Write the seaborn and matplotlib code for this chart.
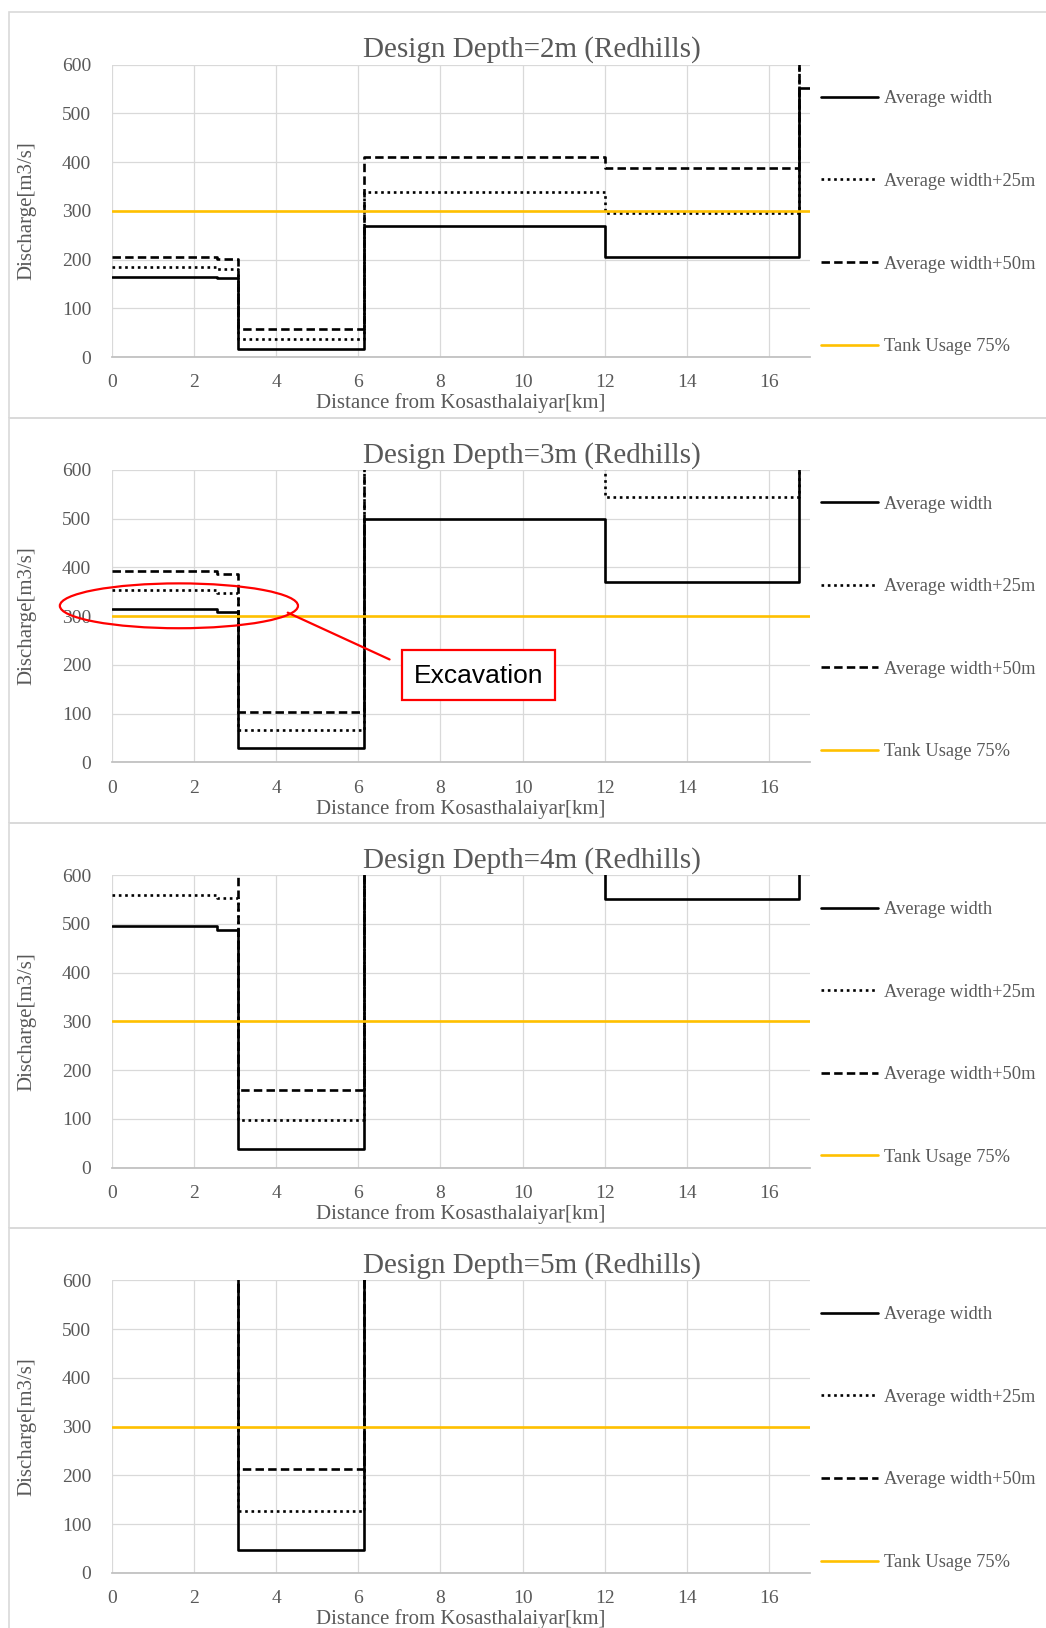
import numpy as np
import pandas as pd
import matplotlib
matplotlib.use("Agg")
import matplotlib.pyplot as plt
from matplotlib.patches import Rectangle, Ellipse
import seaborn as sns

# step edges along the channel [km]; last value repeats to the right edge
dist = [0, 2.55, 3.07, 6.13, 12.0, 16.73, 17.0]

# discharge per segment [m3/s]; 700 = off the chart (above 600)
d2_avg = [165, 162, 17, 268, 205, 551]
d2_w25 = [185, 181, 37, 339, 296, 700]
d2_w50 = [205, 202, 57, 411, 388, 700]

d3_avg = [315, 308, 30, 500, 369, 700]
d3_w25 = [354, 347, 66, 700, 545, 700]
d3_w50 = [392, 386, 104, 700, 700, 700]

d4_avg = [496, 488, 39, 700, 550, 700]
d4_w25 = [560, 552, 97, 700, 700, 700]
d4_w50 = [700, 700, 159, 700, 700, 700]

d5_avg = [700, 700, 46, 700, 700, 700]
d5_w25 = [700, 700, 128, 700, 700, 700]
d5_w50 = [700, 700, 213, 700, 700, 700]

tank_usage = 300
titles = ["Design Depth=2m (Redhills)", "Design Depth=3m (Redhills)",
          "Design Depth=4m (Redhills)", "Design Depth=5m (Redhills)"]
series_names = ["Average width", "Average width+25m", "Average width+50m", "Tank Usage 75%"]
panels = [(d2_avg, d2_w25, d2_w50), (d3_avg, d3_w25, d3_w50),
          (d4_avg, d4_w25, d4_w50), (d5_avg, d5_w25, d5_w50)]

sns.set_theme(style="white")
plt.rcParams['font.family'] = ['Liberation Serif', 'DejaVu Serif']
gray = "#595959"
grid_c = "#D9D9D9"

W, H = 1046, 1628
fig = plt.figure(figsize=(W / 100, H / 100), dpi=100)

ax_left, ax_right = 112, 810
ax_top0, ax_bot0 = 64.5, 357
step = 405.3

palette = {series_names[0]: "black", series_names[1]: "black",
           series_names[2]: "black", series_names[3]: "#FFC000"}
dashes = {series_names[0]: "", series_names[1]: (1, 1.4),
          series_names[2]: (3.2, 1.6), series_names[3]: ""}

for i, (avg, w25, w50) in enumerate(panels):
    top = ax_top0 + step * i
    bot = ax_bot0 + step * i
    ax = fig.add_axes([ax_left / W, 1 - bot / H, (ax_right - ax_left) / W, (bot - top) / H])

    # panel frame
    fig.patches.append(Rectangle((8.5 / W, 1 - (12.5 + step * (i + 1)) / H), 1.2, step / H,
                                 transform=fig.transFigure, fill=False,
                                 edgecolor=grid_c, lw=1.2, zorder=0))

    rows = []
    for name, vals in zip(series_names[:3], (avg, w25, w50)):
        yv = list(vals) + [vals[-1]]
        for x, y in zip(dist, yv):
            rows.append((name, x, y))
    rows.append((series_names[3], 0, tank_usage))
    rows.append((series_names[3], dist[-1], tank_usage))
    df = pd.DataFrame(rows, columns=["series", "dist", "discharge"])

    sns.lineplot(data=df, x="dist", y="discharge", hue="series", style="series",
                 palette=palette, dashes=dashes, drawstyle="steps-post",
                 estimator=None, sort=False, linewidth=1.9, ax=ax)

    ax.set_xlim(0, 17)
    ax.set_ylim(0, 600)
    ax.set_xticks(range(0, 17, 2))
    ax.set_yticks(range(0, 601, 100))
    ax.grid(True, color=grid_c, lw=0.9)
    ax.set_axisbelow(True)
    for s in ["top", "right", "left"]:
        ax.spines[s].set_visible(False)
    ax.spines["bottom"].set_color("#BFBFBF")
    ax.tick_params(axis="x", length=0, pad=12.5, labelsize=14, labelcolor=gray)
    ax.tick_params(axis="y", length=0, pad=15, labelsize=14, labelcolor=gray)
    ax.set_xlabel("Distance from Kosasthalaiyar[km]", fontsize=15, color=gray, labelpad=1.5)
    ax.set_ylabel("Discharge[m3/s]", fontsize=15, color=gray)
    ax.yaxis.set_label_coords(-0.109, 0.5)

    handles, labels = ax.get_legend_handles_labels()
    ax.legend(handles, labels, loc="center left", bbox_to_anchor=(1.005, 0.459),
              frameon=False, handlelength=3.1, handletextpad=0.3, labelspacing=3.55,
              borderaxespad=0, fontsize=13.3, labelcolor=gray)

    fig.text(532 / W, 1 - (50 + step * i) / H, titles[i], ha="center", va="center",
             fontsize=21, color=gray)

    if i == 1:
        ax.add_patch(Ellipse((1.63, 321), 5.8, 92, fill=False, edgecolor="#FF0000",
                             lw=1.6, clip_on=False, zorder=5))
        ax.plot([4.28, 6.76], [307, 211], color="#FF0000", lw=1.6, zorder=5)
        ax.add_patch(Rectangle((7.06, 127), 3.74, 103, facecolor="white",
                               edgecolor="#FF0000", lw=1.6, zorder=6))
        ax.text(8.93, 178, "Excavation", ha="center", va="center", fontsize=19,
                family=["Liberation Sans", "DejaVu Sans"], color="black", zorder=7)

fig.savefig("out.png", dpi=100)
